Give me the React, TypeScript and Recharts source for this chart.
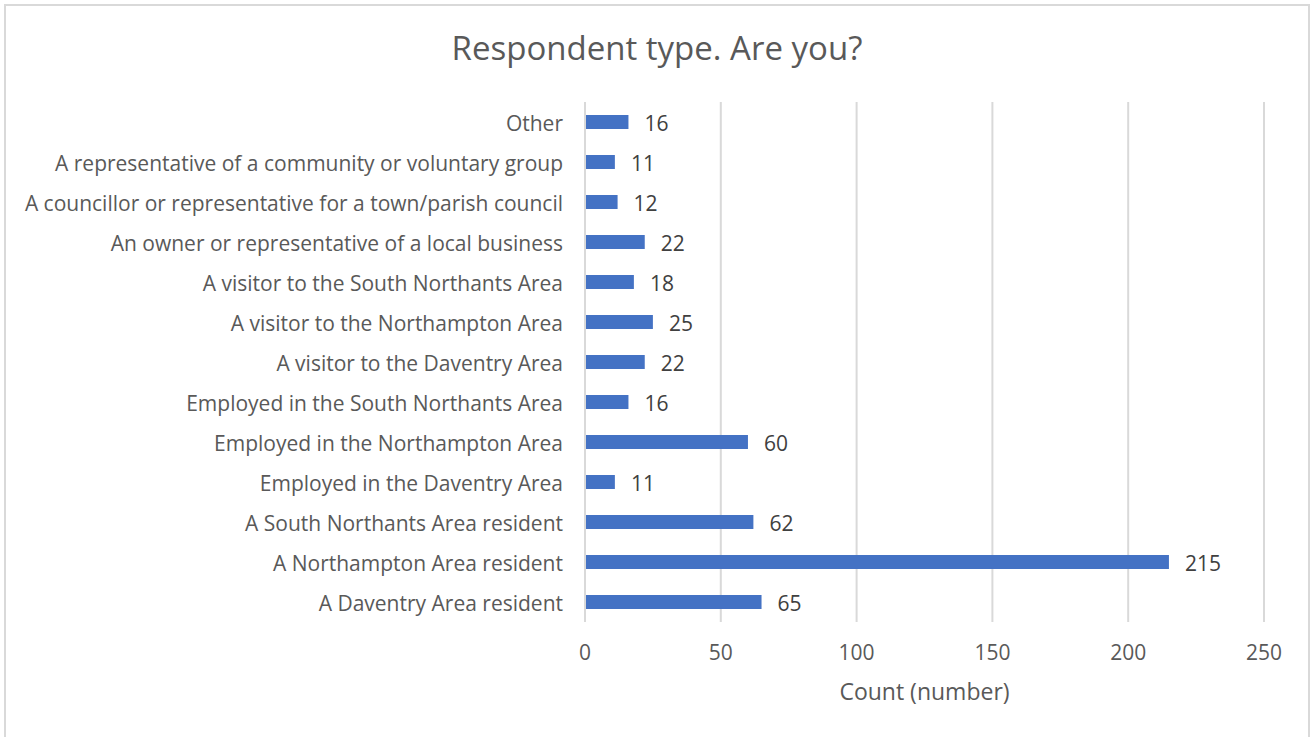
import { BarChart, Bar, XAxis, YAxis, CartesianGrid, LabelList } from "recharts";

// categories top to bottom, as shown
const categories = [
  "Other",
  "A representative of a community or voluntary group",
  "A councillor or representative for a town/parish council",
  "An owner or representative of a local business",
  "A visitor to the South Northants Area",
  "A visitor to the Northampton Area",
  "A visitor to the Daventry Area",
  "Employed in the South Northants Area",
  "Employed in the Northampton Area",
  "Employed in the Daventry Area",
  "A South Northants Area resident",
  "A Northampton Area resident",
  "A Daventry Area resident",
];

const counts = [16, 11, 12, 22, 18, 25, 22, 16, 60, 11, 62, 215, 65];

const xTicks = [0, 50, 100, 150, 200, 250];

const title = "Respondent type. Are you?";
const xTitle = "Count (number)";

const data = categories.map((name, i) => ({ name, count: counts[i] }));

const FONT = "'Open Sans', 'Noto Sans', sans-serif";

export default function App() {
  return (
    <div
      style={{
        position: "absolute",
        left: 4,
        top: 4,
        width: 1306,
        height: 745,
        border: "2px solid #d9d9d9",
        boxSizing: "border-box",
        background: "#fff",
        fontFamily: FONT,
        overflow: "hidden",
      }}
    >
      <div
        style={{
          position: "absolute",
          left: 0,
          width: 1302,
          top: 19,
          textAlign: "center",
          fontSize: 33,
          color: "#595959",
        }}
      >
        {title}
      </div>
      <BarChart
        width={1302}
        height={733}
        data={data}
        layout="vertical"
        margin={{ top: 96, right: 44, bottom: 77, left: 0 }}
      >
        <CartesianGrid horizontal={false} stroke="#d9d9d9" strokeWidth={2} />
        <XAxis
          type="number"
          domain={[0, 250]}
          ticks={xTicks}
          axisLine={false}
          tickLine={false}
          tickSize={0}
          tickMargin={23}
          height={40}
          tick={{ fill: "#595959", fontSize: 21, fontFamily: FONT }}
        />
        <YAxis
          type="category"
          dataKey="name"
          width={579}
          axisLine={{ stroke: "#d9d9d9", strokeWidth: 2 }}
          tickLine={false}
          tickSize={0}
          tickMargin={22}
          interval={0}
          tick={{ fill: "#595959", fontSize: 21, fontFamily: FONT, dy: 2 }}
        />
        <Bar dataKey="count" fill="#4472C4" barSize={14} isAnimationActive={false}>
          <LabelList
            dataKey="count"
            position="right"
            offset={16}
            fill="#404040"
            fontSize={21}
            fontFamily={FONT}
            dy={2}
          />
        </Bar>
      </BarChart>
      <div
        style={{
          position: "absolute",
          left: 579,
          width: 679,
          top: 669,
          textAlign: "center",
          fontSize: 23,
          color: "#595959",
        }}
      >
        {xTitle}
      </div>
    </div>
  );
}
